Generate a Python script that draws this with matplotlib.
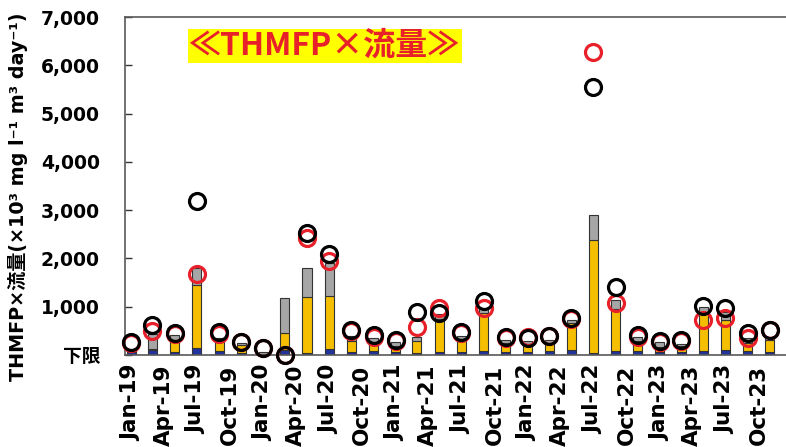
import numpy as np
import pandas as pd
import matplotlib
matplotlib.use('Agg')
import matplotlib.pyplot as plt
import matplotlib.dates as mdates
from matplotlib.ticker import FuncFormatter

plt.rcParams['font.family'] = ['DejaVu Sans', 'Noto Sans CJK JP']

## data (bimonthly samples)
dates = pd.date_range('2019-01-01', '2023-11-01', freq='2MS')

blue = [60, 100, 60, 150, 80, 50, 30, 100, 50, 120, 70, 80, 70, 40, 70,
        70, 80, 70, 70, 80, 100, 40, 80, 80, 70, 60, 80, 100, 80, 70]
yellow = [0, 30, 200, 1300, 180, 150, 0, 350, 1150, 1100, 230, 170, 110, 250, 670,
          220, 780, 170, 150, 170, 560, 2340, 880, 220, 90, 130, 780, 620, 170, 250]
gray = [40, 300, 150, 350, 100, 40, 40, 730, 600, 680, 100, 100, 80, 80, 100,
        100, 100, 80, 60, 60, 60, 520, 180, 70, 100, 40, 140, 170, 100, 30]

black_pts = [270, 620, 455, 3190, 475, 270, 145, 0, 2530, 2100, 520, 410, 310, 900, 870,
             470, 1110, 370, 360, 390, 760, 5560, 1400, 410, 290, 310, 1010, 970, 450, 520]
red_pts = [250, 500, 440, 1670, 440, 260, 140, 0, 2420, 1950, 500, 380, 300, 580, 980,
           460, 980, 360, 370, 400, 740, 6270, 1080, 370, 260, 280, 730, 760, 360, 510]

yticks = [0, 1000, 2000, 3000, 4000, 5000, 6000, 7000]

fig = plt.figure(figsize=(7.86, 4.47), dpi=100)
ax = fig.add_axes([125 / 786, 1 - 355 / 447, 1 - 125 / 786, (355 - 17) / 447])

x = mdates.date2num(dates)
blue = np.array(blue)
yellow = np.array(yellow)
gray = np.array(gray)
w = 25

ax.bar(x, blue, width=w, color='#2233a0', edgecolor='#333333', linewidth=0.8, zorder=2)
ax.bar(x, yellow, width=w, bottom=blue, color='#f5bf00', edgecolor='#333333', linewidth=0.8, zorder=2)
ax.bar(x, gray, width=w, bottom=blue + yellow, color='#a6a6a6', edgecolor='#333333', linewidth=0.8, zorder=2)

ax.plot(x, red_pts, 'o', ms=11.5, mfc='none', mec='#e8202a', mew=2.3, zorder=3, clip_on=False)
ax.plot(x, black_pts, 'o', ms=11.5, mfc='none', mec='black', mew=2.3, zorder=4, clip_on=False)

ax.set_xlim(mdates.date2num(pd.Timestamp('2018-12-15')), mdates.date2num(pd.Timestamp('2023-12-16')))
ax.set_ylim(0, 7000)

ax.xaxis.set_major_locator(mdates.MonthLocator(bymonth=[1, 4, 7, 10]))
ax.xaxis.set_major_formatter(mdates.DateFormatter('%b-%y'))
ax.tick_params(axis='x', length=0, pad=7, labelsize=15.5, rotation=90)

ax.set_yticks(yticks)
ax.yaxis.set_major_formatter(FuncFormatter(lambda v, p: '下限' if v == 0 else f'{int(v):,}'))
ax.tick_params(axis='y', direction='in', length=5, width=1, pad=18, labelsize=13.5, colors='#333333')
for lbl in ax.get_yticklabels():
    lbl.set_fontweight('bold')
    lbl.set_color('black')
for lbl in ax.get_xticklabels():
    lbl.set_color('black')
    lbl.set_fontweight('bold')

for s in ['left', 'top', 'bottom']:
    ax.spines[s].set_color('#595959')
    ax.spines[s].set_linewidth(1.2)
ax.spines['right'].set_visible(False)

fig.text(18 / 786, 1 - 197 / 447, 'THMFP×流量(×10³ mg l⁻¹ m³ day⁻¹)', rotation=90,
         ha='center', va='center', fontsize=13.8, fontweight='bold')

fig.text(325 / 786, 1 - 46 / 447, '≪THMFP×流量≫', ha='center', va='center',
         fontsize=23, fontweight='bold', color='#e8202a', family=['Noto Sans CJK JP', 'DejaVu Sans'],
         bbox=dict(facecolor='#ffff00', edgecolor='none', pad=1))

fig.savefig('out.png', dpi=100)
